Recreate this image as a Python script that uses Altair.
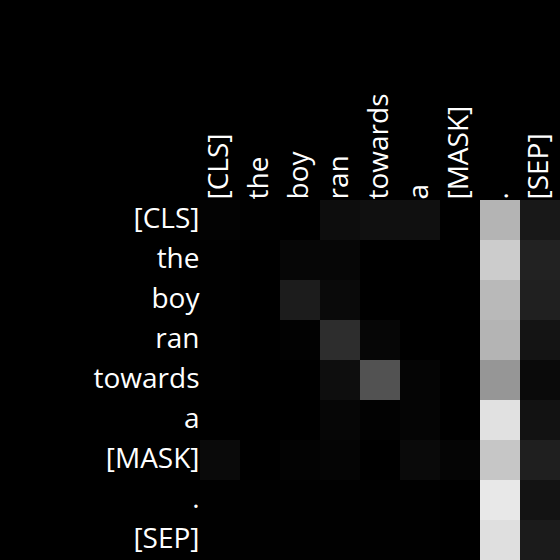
import altair as alt
import pandas as pd

tokens = ["[CLS]", "the", "boy", "ran", "towards", "a", "[MASK]", ".", "[SEP]"]

# attention weights (rows = query token, columns = key token), read as grey level / 255
row_cls     = [0.012, 0.004, 0.000, 0.051, 0.063, 0.063, 0.000, 0.706, 0.094]
row_the     = [0.004, 0.000, 0.024, 0.024, 0.000, 0.000, 0.000, 0.800, 0.133]
row_boy     = [0.004, 0.000, 0.110, 0.039, 0.000, 0.000, 0.000, 0.725, 0.125]
row_ran     = [0.004, 0.000, 0.008, 0.176, 0.024, 0.000, 0.000, 0.706, 0.078]
row_towards = [0.004, 0.000, 0.000, 0.055, 0.322, 0.020, 0.000, 0.588, 0.039]
row_a       = [0.000, 0.000, 0.000, 0.024, 0.008, 0.020, 0.000, 0.882, 0.071]
row_mask    = [0.039, 0.000, 0.012, 0.020, 0.000, 0.039, 0.020, 0.776, 0.122]
row_dot     = [0.004, 0.004, 0.004, 0.004, 0.004, 0.004, 0.000, 0.910, 0.075]
row_sep     = [0.004, 0.004, 0.004, 0.004, 0.004, 0.004, 0.000, 0.875, 0.106]

rows = [row_cls, row_the, row_boy, row_ran, row_towards, row_a, row_mask, row_dot, row_sep]

records = []
for i, r in enumerate(rows):
    for j, v in enumerate(r):
        records.append({"query": tokens[i], "key": tokens[j], "w": v})
df = pd.DataFrame(records)

font = "Open Sans"
chart = (
    alt.Chart(df)
    .mark_rect()
    .encode(
        x=alt.X("key:N", sort=tokens, title=None,
                axis=alt.Axis(orient="top", labelAngle=-90, labelAlign="left",
                              labelBaseline="middle", ticks=False, domain=False,
                              labelPadding=1, labelColor="white", labelFontSize=28,
                              labelFont=font)),
        y=alt.Y("query:N", sort=tokens, title=None,
                axis=alt.Axis(ticks=False, domain=False, labelPadding=1,
                              labelColor="white", labelFontSize=28, labelFont=font)),
        color=alt.Color("w:Q", legend=None,
                        scale=alt.Scale(domain=[0, 1], range=["#000000", "#ffffff"],
                                        interpolate="rgb")),
    )
    .properties(
        width=360, height=360,
        autosize=alt.AutoSizeParams(type="none"),
        padding={"left": 200, "top": 200, "right": 0, "bottom": 0},
        background="black",
    )
    .configure_view(stroke=None)
    .configure_scale(bandPaddingInner=0, bandPaddingOuter=0)
)

chart.save("out.html", embed_options={"renderer": "svg", "actions": False})
